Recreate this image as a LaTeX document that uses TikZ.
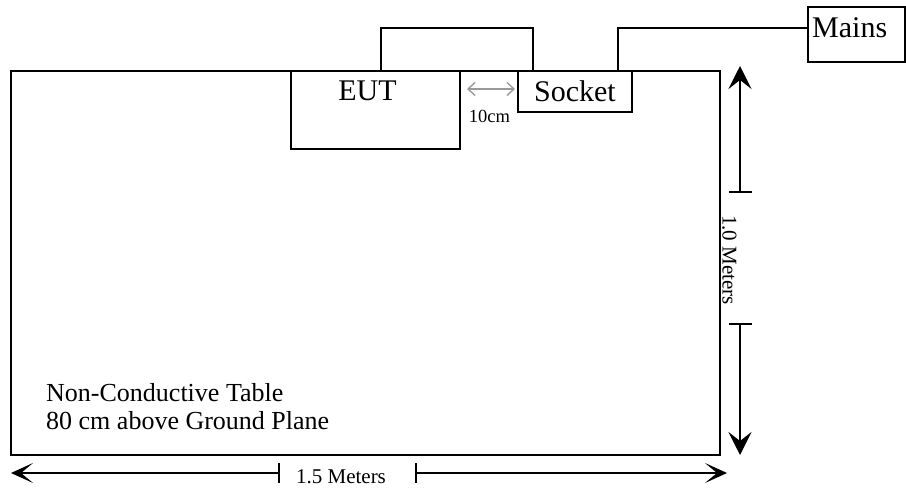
\documentclass[tikz,border=0pt]{standalone}
\usepackage{fontspec}
\setmainfont{Liberation Serif}
\usetikzlibrary{arrows.meta,positioning,calc}
\tikzset{
    tablebox/.style={
        rectangle, draw=black, line width=1.8pt,
        inner sep=0pt, outer sep=0pt
    },
    unit/.style={
        rectangle, draw=black, line width=1.8pt,
        inner sep=0pt, outer sep=0pt,
        font=\fontsize{30}{34}\selectfont
    },
    tag/.style={inner sep=0pt, font=\fontsize{30}{34}\selectfont},
    dimtext/.style={inner sep=0pt, font=\fontsize{21}{24}\selectfont},
    cable/.style={draw, line width=1.8pt},
    vdim/.style={line width=1.8pt, {Bar[width=23pt]}-{Stealth[length=23pt,width=23pt,inset=9pt]}},
    hdim/.style={line width=1.8pt, {Bar[width=20pt]}-{Stealth[length=22pt,width=20pt,inset=12pt]}},
    gaparrow/.style={
        draw=black!40, line width=1.4pt,
        {Straight Barb[length=7pt,width=13pt]}-{Straight Barb[length=7pt,width=13pt]}
    }
}

\begin{document}
\begin{tikzpicture}[x=1pt,y=-1pt]
\useasboundingbox (0,0) rectangle (906,494);

% ---- table, EUT, socket, mains ----
\node[tablebox, minimum width=709pt, minimum height=384pt] (tbl) at (365.5,263) {};
\node[unit, minimum width=169pt, minimum height=78pt,
      label={[tag, anchor=north, xshift=-8pt, yshift=-10pt]north:EUT}] (eut) at (375.5,110) {};
\node[unit, minimum width=114pt, minimum height=41pt] (socket) at (575,91.5) {Socket};
\node[unit, minimum width=97pt, minimum height=55pt,
      label={[tag, anchor=north west, xshift=4pt, yshift=-10pt]north west:Mains}] (mains) at (856.5,34.5) {};

% ---- cables ----
\draw[cable] ($(eut.north west)+(90,0)$) -- ++(0,-43) -| ($(socket.north west)+(15,0)$);
\draw[cable] ($(socket.north west)+(100,0)$) |- ($(mains.west)+(0,-6.5)$);

% ---- 10cm gap ----
\draw[gaparrow] ($(eut.north east)+(7,18)$) -- ($(socket.north west)+(-3,18)$);
\node[dimtext, font=\fontsize{18.5}{22}\selectfont] (gap) at (489.5,116.5) {10cm};

% ---- table text ----
\node[tag, font=\fontsize{26}{28.5}\selectfont, align=left, anchor=north west]
      (note) at (46,383) {Non-Conductive Table\\80 cm above Ground Plane};

% ---- 1.0 Meters (right) ----
\coordinate (vtop)  at (740,66);
\coordinate (vbarA) at (740,193);
\coordinate (vbarB) at (740,323);
\coordinate (vbot)  at (740,455);
\draw[vdim] (vbarA) -- (vtop);
\draw[vdim] (vbarB) -- (vbot);
\node[dimtext, rotate=-90] (vlen) at (729.5,260) {1.0 Meters};

% ---- 1.5 Meters (bottom) ----
\coordinate (hleft)  at (11,473);
\coordinate (hbarA)  at (280,473);
\coordinate (hbarB)  at (415,473);
\coordinate (hright) at (727,473);
\draw[hdim] (hbarA) -- (hleft);
\draw[hdim] (hbarB) -- (hright);
\node[dimtext] (hlen) at (341,477.2) {1.5 Meters};

\end{tikzpicture}
\end{document}
